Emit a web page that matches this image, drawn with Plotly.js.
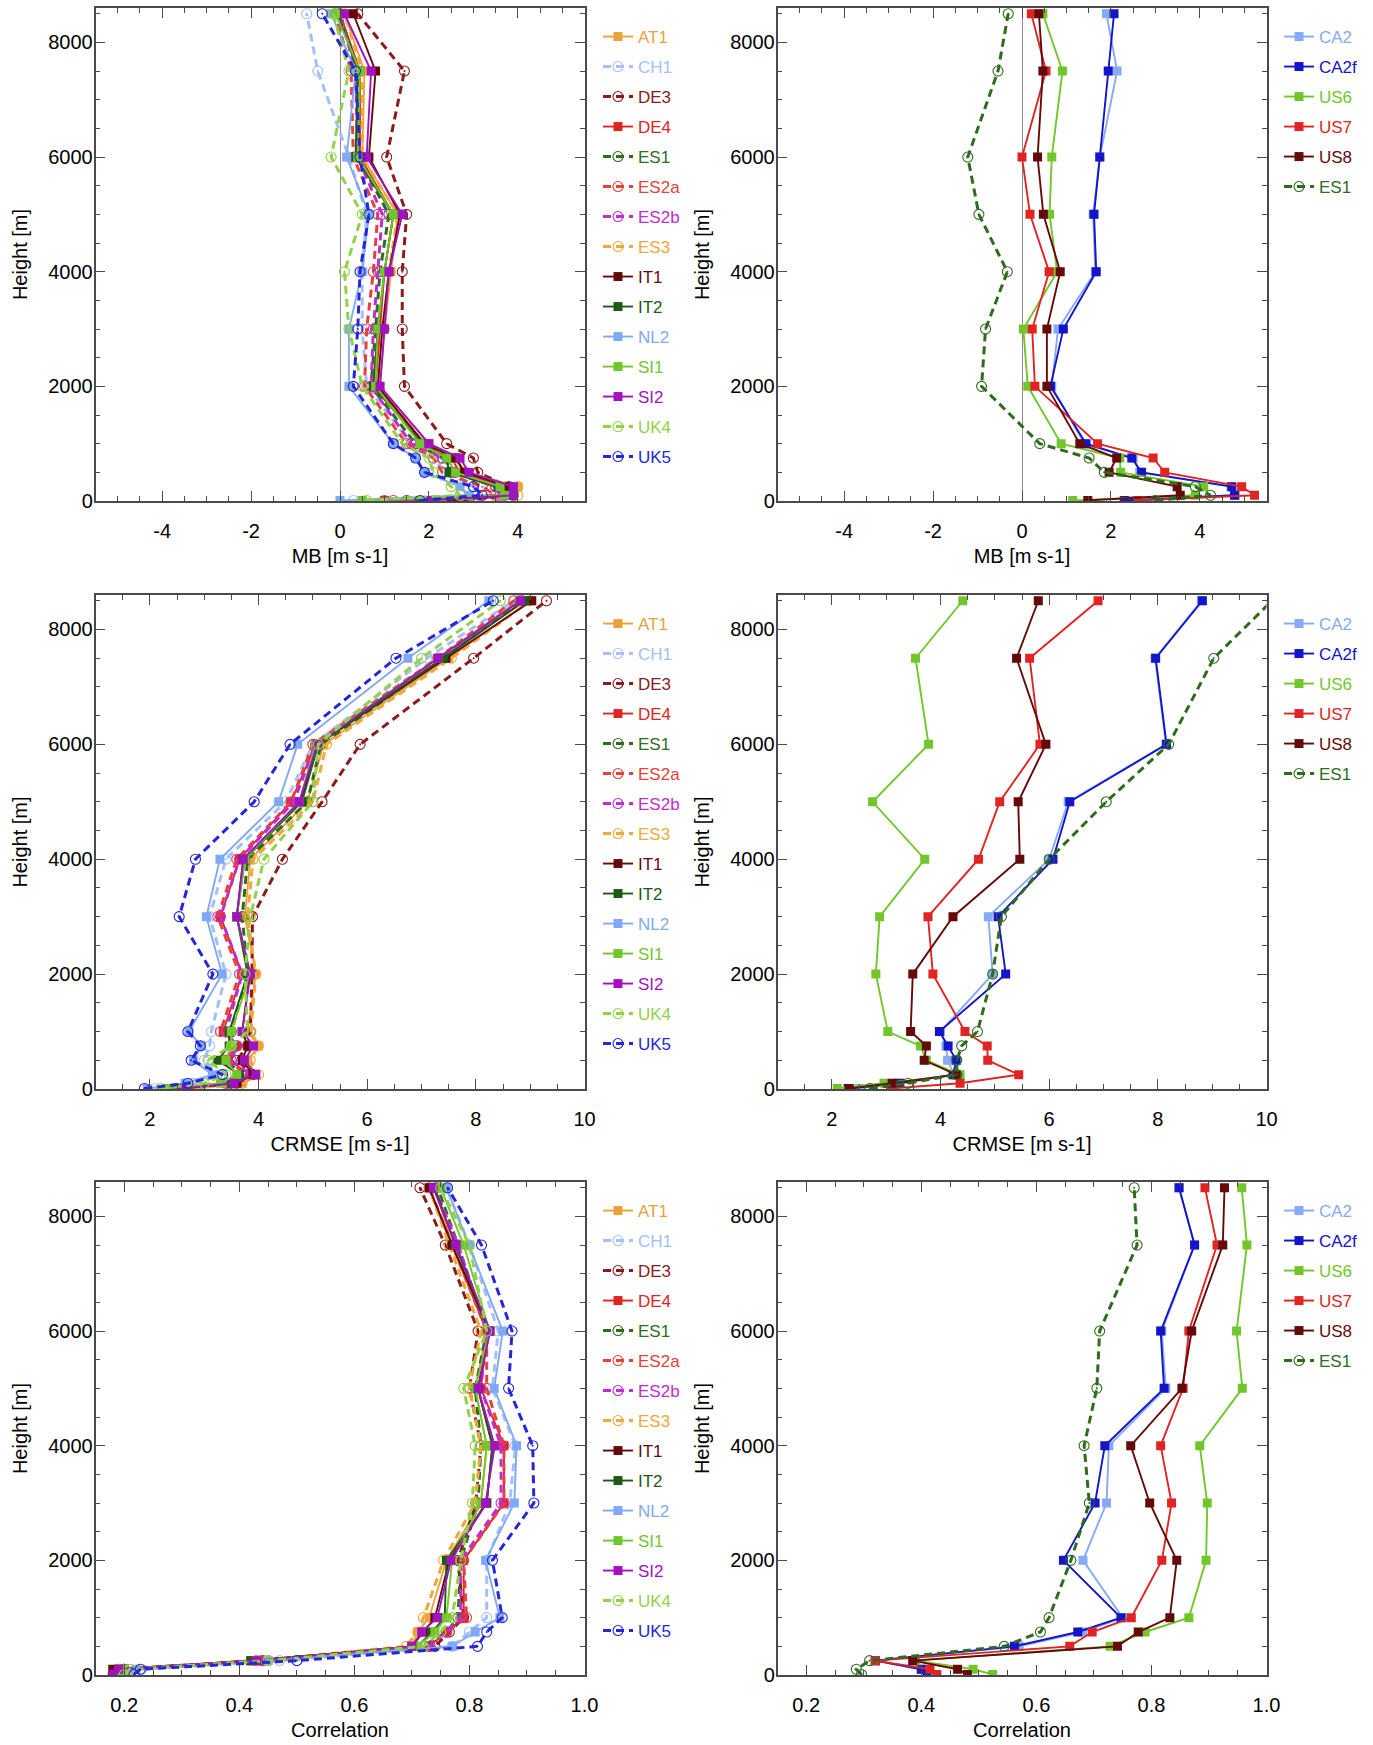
<!DOCTYPE html>
<html>
<head>
<meta charset="utf-8">
<script src="https://cdn.plot.ly/plotly-3.0.1.min.js"></script>
<style>
  html, body { margin: 0; padding: 0; background: #fff; }
  #chart { width: 1373px; height: 1745px; }
</style>
</head>
<body>
<div id="chart"></div>
<script>
// heights of the profile levels (m)
const heights = [10, 100, 250, 500, 750, 1000, 2000, 3000, 4000, 5000, 6000, 7500, 8500];

// model names for each column
const euModels = ['AT1', 'CH1', 'DE3', 'DE4', 'ES1', 'ES2a', 'ES2b', 'ES3', 'IT1', 'IT2', 'NL2', 'SI1', 'SI2', 'UK4', 'UK5'];
const naModels = ['CA2', 'CA2f', 'US6', 'US7', 'US8', 'ES1'];

// Mean bias, europe (one row per model, same order as euModels)
const euMB = [
  [2.4, 3.9, 4.0, 2.8, 2.6, 2.0, 0.9, 1.0, 1.15, 1.3, 0.5, 0.55, 0.1],
  [0.3, 3.1, 3.0, 2.4, 2.1, 1.6, 0.6, 0.5, 0.5, 0.6, 0.2, -0.5, -0.75],
  [2.8, 3.9, 3.8, 3.1, 3.0, 2.4, 1.45, 1.4, 1.4, 1.5, 1.05, 1.45, 0.4],
  [1.0, 3.8, 3.7, 2.7, 2.5, 1.9, 0.8, 0.9, 1.0, 1.2, 0.45, 0.45, 0.0],
  [1.5, 3.7, 3.5, 2.5, 2.3, 1.7, 0.7, 0.8, 0.9, 1.1, 0.4, 0.4, 0.0],
  [1.0, 3.5, 3.2, 2.3, 2.1, 1.5, 0.55, 0.6, 0.75, 0.85, 0.3, 0.25, -0.1],
  [1.2, 3.6, 3.5, 2.6, 2.3, 1.6, 0.7, 0.75, 0.85, 0.95, 0.4, 0.35, 0.0],
  [2.6, 4.0, 4.0, 2.8, 2.6, 1.9, 0.85, 1.0, 1.1, 1.3, 0.5, 0.5, 0.1],
  [2.5, 3.9, 3.8, 2.8, 2.6, 1.9, 0.85, 0.95, 1.1, 1.35, 0.65, 0.8, 0.3],
  [1.8, 3.8, 3.55, 2.45, 2.4, 1.85, 0.75, 0.85, 1.0, 1.2, 0.35, 0.4, -0.05],
  [0.0, 2.9, 2.7, 1.9, 1.7, 1.2, 0.2, 0.2, 0.5, 0.65, 0.15, 0.35, -0.2],
  [0.5, 3.7, 3.6, 2.6, 2.4, 1.8, 0.8, 0.85, 1.0, 1.2, 0.4, 0.45, -0.1],
  [2.0, 3.9, 3.9, 2.9, 2.7, 2.0, 0.9, 1.0, 1.1, 1.4, 0.6, 0.7, 0.1],
  [0.6, 2.7, 2.5, 2.1, 2.0, 1.4, 0.5, 0.2, 0.1, 0.5, -0.2, 0.2, -0.15],
  [1.8, 3.2, 3.0, 1.9, 1.7, 1.2, 0.3, 0.4, 0.45, 0.65, 0.45, 0.35, -0.4]
];

// Mean bias, north america
const naMB = [
  [2.4, 4.8, 4.7, 2.65, 2.5, 1.4, 0.67, 0.81, 1.65, 1.6, 1.75, 2.14, 1.9],
  [2.3, 4.78, 4.72, 2.69, 2.47, 1.44, 0.64, 0.93, 1.67, 1.62, 1.75, 1.94, 2.07],
  [1.14, 3.9, 4.09, 2.22, 2.2, 0.88, 0.13, 0.03, 0.79, 0.62, 0.67, 0.91, 0.47],
  [2.6, 5.23, 4.94, 3.21, 2.95, 1.7, 0.29, 0.23, 0.61, 0.18, 0.0, 0.54, 0.21],
  [1.48, 3.56, 3.49, 1.96, 2.13, 1.3, 0.56, 0.56, 0.86, 0.48, 0.35, 0.47, 0.38],
  [3.0, 4.24, 3.9, 1.85, 1.51, 0.4, -0.91, -0.82, -0.33, -0.97, -1.22, -0.54, -0.31]
];

// CRMSE, europe
const euCRMSE = [
  [2.7, 3.7, 3.95, 3.8, 4.0, 3.8, 3.95, 3.75, 3.85, 4.9, 5.2, 7.5, 9.0],
  [2.1, 2.8, 3.3, 3.0, 3.1, 3.13, 3.4, 3.1, 3.4, 4.5, 5.0, 7.1, 8.7],
  [2.7, 3.6, 3.9, 3.6, 3.8, 3.85, 3.88, 3.89, 4.44, 5.17, 5.87, 7.96, 9.3],
  [2.5, 3.5, 3.85, 3.45, 3.6, 3.35, 3.7, 3.3, 3.65, 4.6, 5.05, 7.4, 8.9],
  [2.5, 3.4, 3.7, 3.4, 3.6, 3.5, 3.8, 3.7, 3.8, 4.9, 5.15, 7.4, 8.85],
  [2.5, 3.45, 3.8, 3.4, 3.6, 3.3, 3.65, 3.25, 3.6, 4.6, 5.0, 7.3, 8.7],
  [2.5, 3.5, 3.85, 3.5, 3.6, 3.4, 3.7, 3.3, 3.65, 4.65, 5.05, 7.35, 8.8],
  [2.8, 3.7, 4.0, 3.85, 4.0, 3.86, 3.95, 3.8, 3.9, 5.0, 5.25, 7.55, 9.0],
  [2.6, 3.6, 3.9, 3.7, 3.8, 3.7, 3.84, 3.6, 3.72, 4.77, 5.09, 7.45, 9.03],
  [2.5, 3.5, 3.65, 3.25, 3.46, 3.46, 3.8, 3.6, 3.75, 4.8, 5.1, 7.4, 8.9],
  [1.95, 2.65, 3.15, 2.8, 2.95, 2.72, 3.33, 3.04, 3.29, 4.37, 4.72, 6.75, 8.24],
  [2.3, 3.3, 3.6, 3.4, 3.5, 3.5, 3.85, 3.6, 3.75, 4.75, 5.05, 7.3, 8.8],
  [2.6, 3.55, 3.95, 3.74, 3.91, 3.7, 3.85, 3.6, 3.72, 4.75, 5.08, 7.3, 8.82],
  [2.2, 3.0, 3.4, 3.07, 3.5, 3.8, 3.75, 3.85, 4.1, 5.0, 5.1, 7.0, 8.45],
  [1.9, 2.7, 3.34, 2.76, 2.93, 2.7, 3.16, 2.54, 2.84, 3.92, 4.58, 6.53, 8.32]
];

// CRMSE, north america
const naCRMSE = [
  [2.5, 3.2, 4.25, 4.13, 4.1, 4.0, 4.96, 4.88, 6.0, 6.35, 8.15, 7.95, 8.8],
  [2.3, 3.25, 4.23, 4.29, 4.14, 3.98, 5.2, 5.06, 6.07, 6.38, 8.16, 7.96, 8.82],
  [2.1, 2.96, 4.36, 3.74, 3.63, 3.03, 2.81, 2.88, 3.71, 2.75, 3.78, 3.54, 4.41],
  [3.1, 4.36, 5.44, 4.87, 4.86, 4.45, 3.86, 3.77, 4.7, 5.09, 5.83, 5.64, 6.9],
  [2.32, 3.11, 4.29, 3.7, 3.74, 3.45, 3.49, 4.23, 5.46, 5.43, 5.94, 5.4, 5.8],
  [2.7, 3.4, 4.3, 4.3, 4.39, 4.68, 4.96, 5.12, 6.0, 7.05, 8.2, 9.03, 10.1]
];

// Correlation, europe
const euCorr = [
  [0.18, 0.19, 0.43, 0.70, 0.71, 0.73, 0.76, 0.82, 0.83, 0.81, 0.83, 0.77, 0.74],
  [0.21, 0.23, 0.47, 0.77, 0.80, 0.83, 0.83, 0.87, 0.88, 0.84, 0.85, 0.80, 0.76],
  [0.19, 0.19, 0.43, 0.74, 0.765, 0.79, 0.78, 0.811, 0.82, 0.80, 0.815, 0.758, 0.714],
  [0.18, 0.20, 0.44, 0.73, 0.76, 0.79, 0.79, 0.86, 0.86, 0.82, 0.83, 0.77, 0.73],
  [0.19, 0.20, 0.44, 0.72, 0.76, 0.78, 0.785, 0.815, 0.82, 0.81, 0.83, 0.78, 0.745],
  [0.19, 0.20, 0.45, 0.73, 0.76, 0.795, 0.79, 0.86, 0.86, 0.83, 0.83, 0.77, 0.73],
  [0.19, 0.20, 0.44, 0.73, 0.76, 0.785, 0.785, 0.855, 0.855, 0.82, 0.83, 0.78, 0.74],
  [0.18, 0.19, 0.43, 0.69, 0.71, 0.72, 0.755, 0.81, 0.82, 0.80, 0.82, 0.765, 0.73],
  [0.18, 0.18, 0.42, 0.70, 0.72, 0.74, 0.765, 0.83, 0.84, 0.815, 0.835, 0.77, 0.73],
  [0.19, 0.20, 0.42, 0.71, 0.735, 0.757, 0.76, 0.83, 0.84, 0.815, 0.835, 0.775, 0.74],
  [0.20, 0.22, 0.45, 0.77, 0.81, 0.853, 0.828, 0.878, 0.882, 0.843, 0.858, 0.80, 0.76],
  [0.19, 0.20, 0.43, 0.71, 0.74, 0.76, 0.77, 0.82, 0.83, 0.81, 0.835, 0.79, 0.75],
  [0.18, 0.19, 0.43, 0.70, 0.717, 0.744, 0.768, 0.828, 0.844, 0.815, 0.836, 0.777, 0.737],
  [0.20, 0.21, 0.45, 0.72, 0.75, 0.77, 0.785, 0.805, 0.81, 0.79, 0.83, 0.80, 0.75],
  [0.217, 0.228, 0.50, 0.814, 0.83, 0.857, 0.84, 0.912, 0.91, 0.868, 0.874, 0.821, 0.762]
];

// Correlation, north america
const naCorr = [
  [0.41, 0.40, 0.32, 0.57, 0.68, 0.75, 0.681, 0.722, 0.726, 0.825, 0.818, 0.875, 0.848],
  [0.41, 0.40, 0.32, 0.562, 0.672, 0.747, 0.647, 0.702, 0.719, 0.822, 0.816, 0.875, 0.848],
  [0.524, 0.49, 0.39, 0.728, 0.789, 0.865, 0.895, 0.897, 0.884, 0.958, 0.948, 0.966, 0.957],
  [0.427, 0.415, 0.32, 0.658, 0.697, 0.765, 0.818, 0.835, 0.816, 0.855, 0.865, 0.914, 0.893],
  [0.48, 0.463, 0.385, 0.741, 0.777, 0.832, 0.844, 0.797, 0.764, 0.853, 0.87, 0.924, 0.927],
  [0.296, 0.287, 0.31, 0.544, 0.607, 0.622, 0.66, 0.692, 0.683, 0.705, 0.71, 0.775, 0.77]
];

// axis labels
const mbTicks = [-4, -2, 0, 2, 4];
const mbTickText = ['-4', '-2', '0', '2', '4'];

// ---- styles ----
const styles = {
  AT1:  { c: '#E9A23B', dash: false },
  CH1:  { c: '#A3C0F8', dash: true },
  DE3:  { c: '#8A1C1C', dash: true },
  DE4:  { c: '#E02424', dash: false },
  ES1:  { c: '#2F6B1F', dash: true },
  ES2a: { c: '#E8413B', dash: true },
  ES2b: { c: '#C22BD2', dash: true },
  ES3:  { c: '#F0A83C', dash: true },
  IT1:  { c: '#650A0A', dash: false },
  IT2:  { c: '#1F5A13', dash: false },
  NL2:  { c: '#80A9F5', dash: false },
  SI1:  { c: '#72C62B', dash: false },
  SI2:  { c: '#A112C1', dash: false },
  UK4:  { c: '#92D148', dash: true },
  UK5:  { c: '#2626D8', dash: true },
  CA2:  { c: '#86AAF6', dash: false },
  CA2f: { c: '#1414C8', dash: false },
  US6:  { c: '#72C62B', dash: false },
  US7:  { c: '#E02424', dash: false },
  US8:  { c: '#650A0A', dash: false }
};

const W = 1373, H = 1745;
const font = 'Liberation Sans, Arial, Helvetica, sans-serif';

// panel frames in pixels
const colX = [[95.5, 584.5], [777.5, 1266.5]];
const rowY = [[8, 501], [595, 1089], [1182, 1675]];

const traces = [];
function addPanel(idx, models, rows, legendName) {
  const axSuffix = idx === 1 ? '' : String(idx);
  models.forEach(function(m, i) {
    const st = styles[m];
    traces.push({
      type: 'scatter',
      mode: 'lines+markers',
      x: rows[i],
      y: heights,
      xaxis: 'x' + axSuffix,
      yaxis: 'y' + axSuffix,
      name: '<span style="color:' + st.c + '">' + m + '</span>',
      legend: legendName,
      legendgroup: legendName + m,
      line: { color: st.c, width: st.dash ? 3 : 1.9, dash: st.dash ? '8px,5px' : 'solid' },
      marker: st.dash
        ? { symbol: 'circle-open-dot', size: 10, color: st.c, line: { width: 1.1, color: st.c } }
        : { symbol: 'square', size: 9, color: st.c },
      hoverinfo: 'x+y+name'
    });
  });
}

addPanel(1, euModels, euMB, 'legend');
addPanel(2, naModels, naMB, 'legend2');
addPanel(3, euModels, euCRMSE, 'legend3');
addPanel(4, naModels, naCRMSE, 'legend4');
addPanel(5, euModels, euCorr, 'legend5');
addPanel(6, naModels, naCorr, 'legend6');

function xDomain(col) { return [colX[col][0] / W, colX[col][1] / W]; }
function yDomain(row) { return [1 - rowY[row][1] / H, 1 - rowY[row][0] / H]; }

const titleFont = { family: font, size: 20, color: '#000' };
const axisBase = {
  showline: true, linecolor: '#4a4a4a', linewidth: 1.5, mirror: 'allticks',
  ticks: 'inside', ticklen: 10, tickwidth: 1.2, tickcolor: '#4a4a4a',
  showgrid: false, zeroline: false, fixedrange: true,
  tickfont: { family: font, size: 20, color: '#000' },
  minor: { ticks: 'inside', ticklen: 5, tickwidth: 1.2, tickcolor: '#4a4a4a', showgrid: false }
};

function xAxis(col, kind, anchor) {
  const ax = Object.assign({}, axisBase, { domain: xDomain(col), anchor: anchor, ticklabelstandoff: 11 });
  if (kind === 'mb') {
    Object.assign(ax, {
      range: [-5.5, 5.5], tickmode: 'array', tickvals: mbTicks, ticktext: mbTickText,
      minor: Object.assign({}, axisBase.minor, { tickmode: 'linear', tick0: 0, dtick: 0.5 }),
      zeroline: true, zerolinecolor: '#8c8c8c', zerolinewidth: 1,
      title: { text: 'MB [m s-1]', font: titleFont, standoff: 8 }
    });
  } else if (kind === 'crmse') {
    Object.assign(ax, {
      range: [1, 10], tick0: 0, dtick: 2,
      minor: Object.assign({}, axisBase.minor, { tick0: 0, dtick: 0.5 }),
      title: { text: 'CRMSE [m s-1]', font: titleFont, standoff: 8 }
    });
  } else {
    Object.assign(ax, {
      range: [0.15, 1.0], tick0: 0, dtick: 0.2, tickformat: '.1f',
      minor: Object.assign({}, axisBase.minor, { tick0: 0, dtick: 0.05 }),
      title: { text: 'Correlation', font: titleFont, standoff: 8 }
    });
  }
  return ax;
}

function yAxis(row, anchor) {
  return Object.assign({}, axisBase, {
    domain: yDomain(row), anchor: anchor,
    range: [0, 8600], tick0: 0, dtick: 2000, ticklabelstandoff: -3,
    minor: Object.assign({}, axisBase.minor, { tick0: 0, dtick: 500 }),
    title: { text: 'Height [m]', font: titleFont, standoff: 15 }
  });
}

function legendAt(col, row) {
  const left = col === 0 ? 598 : 1279;
  const top = rowY[row][0] + 11;
  return {
    x: left / W, y: 1 - top / H, xanchor: 'left', yanchor: 'top',
    bgcolor: 'rgba(0,0,0,0)', borderwidth: 0,
    font: { family: font, size: 17, color: '#000' },
    traceorder: 'grouped', tracegroupgap: 4.9, itemwidth: 30
  };
}

const layout = {
  width: W, height: H,
  margin: { l: 0, r: 0, t: 0, b: 0 },
  paper_bgcolor: '#fff', plot_bgcolor: '#fff',
  showlegend: true,
  xaxis: xAxis(0, 'mb', 'y'),   yaxis: yAxis(0, 'x'),
  xaxis2: xAxis(1, 'mb', 'y2'), yaxis2: yAxis(0, 'x2'),
  xaxis3: xAxis(0, 'crmse', 'y3'), yaxis3: yAxis(1, 'x3'),
  xaxis4: xAxis(1, 'crmse', 'y4'), yaxis4: yAxis(1, 'x4'),
  xaxis5: xAxis(0, 'corr', 'y5'), yaxis5: yAxis(2, 'x5'),
  xaxis6: xAxis(1, 'corr', 'y6'), yaxis6: yAxis(2, 'x6'),
  legend: legendAt(0, 0), legend2: legendAt(1, 0),
  legend3: legendAt(0, 1), legend4: legendAt(1, 1),
  legend5: legendAt(0, 2), legend6: legendAt(1, 2)
};

Plotly.newPlot('chart', traces, layout, { displayModeBar: false, responsive: false });
</script>
</body>
</html>
